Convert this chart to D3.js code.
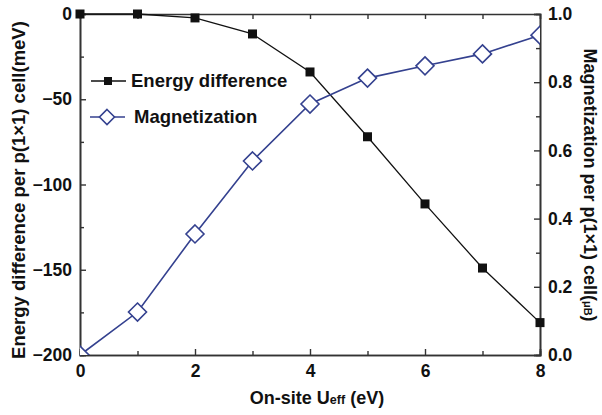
<!DOCTYPE html>
<html>
<head>
<meta charset="utf-8">
<script src="https://cdn.jsdelivr.net/npm/d3@7"></script>
<style>
  html, body { margin: 0; padding: 0; background: #fff; }
  svg { display: block; }
  text { font-family: "Liberation Sans", Arial, sans-serif; font-weight: bold; fill: #111; }
</style>
</head>
<body>
<svg id="chart" width="602" height="415"></svg>
<script>
// On-site U_eff values (eV)
const uEff = [0, 1, 2, 3, 4, 5, 6, 7, 8];
// Energy difference per p(1x1) cell (meV)
const energyDiff = [0, 0, -2.3, -11.7, -34, -72, -111.4, -149, -181];
// Magnetization per p(1x1) cell (μB)
const magnetization = [0.0, 0.126, 0.355, 0.569, 0.736, 0.812, 0.848, 0.883, 0.938];

const xTickLabels = [0, 2, 4, 6, 8];
const leftTickLabels = [0, -50, -100, -150, -200];
const rightTickLabels = [0.0, 0.2, 0.4, 0.6, 0.8, 1.0];

const plot = { left: 80, right: 540, top: 14, bottom: 355 };
const energyColor = "#111111";
const magColor = "#34418f";
const axisColor = "#333333";

const svg = d3.select("#chart");

const x = d3.scaleLinear().domain([0, 8]).range([plot.left, plot.right]);
const yE = d3.scaleLinear().domain([-200, 0]).range([plot.bottom, plot.top]);
const yM = d3.scaleLinear().domain([0, 1]).range([plot.bottom, plot.top]);

// Axes: ticks point inward
function styleAxis(g) {
  g.select(".domain").attr("stroke", axisColor).attr("stroke-width", 1.6);
  g.selectAll(".tick line").attr("stroke", axisColor).attr("stroke-width", 1.4);
  g.selectAll(".tick text").style("font-size", "17.5px").attr("fill", "#111");
}

// Minor ticks (no labels)
svg.append("g").attr("transform", `translate(0,${plot.bottom})`)
  .call(d3.axisBottom(x).tickValues(d3.range(1, 8, 2)).tickSize(-4).tickFormat(""))
  .call(styleAxis);
svg.append("g").attr("transform", `translate(${plot.left},0)`)
  .call(d3.axisLeft(yE).tickValues(d3.range(-175, 0, 50)).tickSize(-4).tickFormat(""))
  .call(styleAxis);
svg.append("g").attr("transform", `translate(${plot.right},0)`)
  .call(d3.axisRight(yM).tickValues([0.1, 0.3, 0.5, 0.7, 0.9]).tickSize(-4).tickFormat(""))
  .call(styleAxis);
svg.append("g").attr("transform", `translate(0,${plot.top})`)
  .call(d3.axisTop(x).tickValues(d3.range(1, 8, 1)).tickSize(-5).tickFormat(""))
  .call(styleAxis);

// Major ticks with labels
svg.append("g").attr("transform", `translate(0,${plot.bottom})`)
  .call(d3.axisBottom(x).tickValues(xTickLabels).tickSize(-6).tickPadding(10).tickFormat(d3.format("d")))
  .call(styleAxis);
svg.append("g").attr("transform", `translate(${plot.left},0)`)
  .call(d3.axisLeft(yE).tickValues(leftTickLabels).tickSize(-6).tickPadding(8).tickFormat(d3.format("d")))
  .call(styleAxis);
svg.append("g").attr("transform", `translate(${plot.right},0)`)
  .call(d3.axisRight(yM).tickValues(rightTickLabels).tickSize(-6).tickPadding(8).tickFormat(d3.format(".1f")))
  .call(styleAxis);

// Clip region for magnetization markers
svg.append("clipPath").attr("id", "plotClip")
  .append("rect")
  .attr("x", plot.left).attr("y", plot.top - 10)
  .attr("width", plot.right - plot.left).attr("height", plot.bottom - plot.top + 10);

// Energy difference series
const lineE = d3.line().x((d, i) => x(uEff[i])).y(d => yE(d));
svg.append("path").datum(energyDiff)
  .attr("d", lineE).attr("fill", "none")
  .attr("stroke", energyColor).attr("stroke-width", 1.3);

// Magnetization series
const lineM = d3.line().x((d, i) => x(uEff[i])).y(d => yM(d));
svg.append("path").datum(magnetization)
  .attr("d", lineM).attr("fill", "none")
  .attr("stroke", magColor).attr("stroke-width", 1.6);

const diamond = r => `M0,${-r}L${r},0L0,${r}L${-r},0Z`;
svg.append("g").attr("clip-path", "url(#plotClip)")
  .selectAll("path").data(magnetization).join("path")
  .attr("transform", (d, i) => `translate(${x(uEff[i])},${yM(d)})`)
  .attr("d", diamond(9))
  .attr("fill", "#fff").attr("stroke", magColor).attr("stroke-width", 1.6);

svg.append("g")
  .selectAll("rect").data(energyDiff).join("rect")
  .attr("x", (d, i) => x(uEff[i]) - 4.5)
  .attr("y", d => yE(d) - 4.5)
  .attr("width", 9).attr("height", 9)
  .attr("fill", energyColor);

// Legend
const legend = svg.append("g");
legend.append("line").attr("x1", 91).attr("x2", 126).attr("y1", 81).attr("y2", 81)
  .attr("stroke", energyColor).attr("stroke-width", 1.3);
legend.append("rect").attr("x", 104).attr("y", 77).attr("width", 8).attr("height", 8).attr("fill", energyColor);
legend.append("text").attr("x", 131).attr("y", 87).style("font-size", "18.5px").text("Energy difference");

legend.append("line").attr("x1", 90).attr("x2", 125).attr("y1", 117).attr("y2", 117)
  .attr("stroke", magColor).attr("stroke-width", 1.6);
legend.append("path").attr("transform", "translate(107,117)").attr("d", diamond(7.5))
  .attr("fill", "#fff").attr("stroke", magColor).attr("stroke-width", 1.6);
legend.append("text").attr("x", 134).attr("y", 123).style("font-size", "18.5px").text("Magnetization");

// Axis titles
const xTitle = svg.append("text").attr("x", 317).attr("y", 404)
  .attr("text-anchor", "middle").style("font-size", "18px");
xTitle.append("tspan").text("On-site U");
xTitle.append("tspan").style("font-size", "12.5px").text("eff");
xTitle.append("tspan").text(" (eV)");

svg.append("text")
  .attr("transform", "translate(25,190) rotate(-90)")
  .attr("text-anchor", "middle").style("font-size", "18.5px")
  .text("Energy difference per p(1×1) cell(meV)");

const rTitle = svg.append("text")
  .attr("transform", "translate(584,185) rotate(90)")
  .attr("text-anchor", "middle").style("font-size", "18px");
rTitle.append("tspan").text("Magnetization per p(1×1) cell(");
rTitle.append("tspan").style("font-size", "11px").text("μB");
rTitle.append("tspan").text(")");
</script>
</body>
</html>
